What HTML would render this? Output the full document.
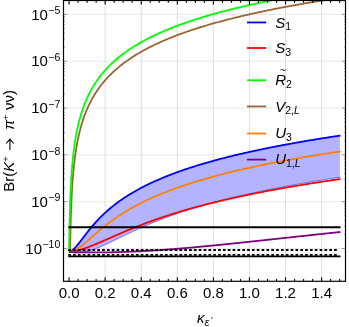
<!DOCTYPE html>
<html><head><meta charset="utf-8"><title>plot</title>
<style>html,body{margin:0;padding:0;background:#fff;}svg{display:block;}text{font-family:"Liberation Sans",sans-serif;fill:#000;}</style></head><body>
<svg width="349" height="327" viewBox="0 0 349 327" style="will-change:transform">
<rect width="349" height="327" fill="#fff"/>
<defs><clipPath id="c"><rect x="63.50" y="0.50" width="282.00" height="280.80"/></clipPath></defs>
<path d="M105.15,0.50 V281.30 M141.23,0.50 V281.30 M177.31,0.50 V281.30 M213.39,0.50 V281.30 M249.47,0.50 V281.30 M285.55,0.50 V281.30 M321.63,0.50 V281.30" stroke="#d6d6d6" stroke-width="0.8" fill="none"/>
<path d="M63.50,14.40 H345.50 M63.50,61.22 H345.50 M63.50,108.04 H345.50 M63.50,154.86 H345.50 M63.50,201.68 H345.50 M63.50,248.50 H345.50" stroke="#dedede" stroke-width="0.7" fill="none"/>
<g clip-path="url(#c)" fill="none" stroke-linejoin="round" stroke-linecap="butt">
<path d="M69.07,252.12 L69.22,252.07 L69.38,252.01 L69.53,251.96 L69.68,251.90 L69.83,251.83 L69.99,251.76 L70.14,251.69 L70.29,251.61 L70.45,251.53 L70.60,251.45 L70.75,251.36 L70.90,251.28 L71.06,251.18 L71.21,251.09 L71.36,250.99 L71.52,250.88 L71.67,250.78 L71.82,250.67 L71.97,250.56 L72.13,250.44 L72.28,250.32 L72.43,250.20 L72.59,250.08 L72.74,249.95 L72.89,249.82 L73.04,249.69 L73.20,249.56 L73.35,249.42 L73.50,249.28 L73.66,249.14 L73.81,248.99 L73.96,248.85 L74.12,248.70 L74.27,248.55 L74.42,248.39 L74.57,248.24 L74.73,248.08 L74.88,247.92 L75.03,247.76 L75.19,247.60 L75.34,247.43 L75.49,247.26 L75.64,247.10 L75.80,246.93 L75.95,246.75 L76.10,246.58 L76.26,246.41 L76.41,246.23 L76.56,246.05 L76.71,245.87 L76.87,245.69 L77.02,245.51 L77.17,245.33 L77.33,245.14 L77.48,244.96 L77.63,244.77 L77.78,244.59 L77.94,244.40 L78.09,244.21 L78.97,243.11 L79.84,241.99 L80.72,240.85 L81.59,239.71 L82.47,238.56 L83.34,237.40 L84.22,236.26 L85.09,235.11 L85.97,233.98 L86.85,232.85 L87.72,231.74 L88.60,230.64 L89.47,229.55 L90.35,228.48 L91.22,227.42 L92.10,226.38 L92.97,225.36 L93.85,224.35 L94.73,223.36 L95.60,222.38 L96.48,221.43 L97.35,220.48 L98.23,219.56 L99.10,218.64 L99.98,217.75 L100.85,216.87 L101.73,216.00 L102.61,215.15 L103.48,214.31 L104.36,213.49 L105.23,212.68 L106.11,211.88 L106.98,211.10 L107.86,210.32 L108.74,209.57 L109.61,208.82 L110.49,208.08 L111.36,207.36 L112.24,206.65 L113.11,205.95 L113.99,205.25 L114.86,204.57 L115.74,203.90 L116.62,203.24 L117.49,202.59 L118.37,201.95 L119.24,201.31 L120.12,200.69 L120.99,200.07 L121.87,199.47 L122.74,198.87 L123.62,198.28 L124.50,197.69 L125.37,197.12 L126.25,196.55 L127.12,195.99 L128.00,195.44 L128.87,194.89 L129.75,194.35 L130.62,193.82 L131.50,193.29 L132.38,192.77 L133.25,192.26 L134.13,191.75 L135.00,191.25 L135.88,190.75 L136.75,190.26 L137.63,189.77 L138.50,189.29 L139.38,188.82 L140.26,188.35 L141.13,187.89 L142.01,187.43 L142.88,186.97 L143.76,186.52 L144.63,186.08 L145.51,185.64 L146.38,185.20 L147.26,184.77 L148.14,184.35 L149.01,183.92 L149.89,183.51 L150.76,183.09 L151.64,182.68 L152.51,182.28 L153.39,181.87 L154.26,181.48 L155.14,181.08 L156.02,180.69 L156.89,180.30 L157.77,179.92 L158.64,179.54 L159.52,179.16 L160.39,178.79 L161.27,178.42 L162.15,178.05 L163.02,177.69 L163.90,177.33 L164.77,176.97 L165.65,176.62 L166.52,176.26 L167.40,175.92 L168.27,175.57 L169.15,175.23 L170.03,174.89 L170.90,174.55 L171.78,174.22 L172.65,173.88 L173.53,173.55 L174.40,173.23 L175.28,172.90 L176.15,172.58 L177.03,172.26 L177.91,171.95 L178.78,171.63 L179.66,171.32 L180.53,171.01 L181.41,170.70 L182.28,170.40 L183.16,170.10 L184.03,169.79 L184.91,169.50 L185.79,169.20 L186.66,168.91 L187.54,168.61 L188.41,168.32 L189.29,168.04 L190.16,167.75 L191.04,167.47 L191.91,167.18 L192.79,166.90 L193.67,166.62 L194.54,166.35 L195.42,166.07 L196.29,165.80 L197.17,165.53 L198.04,165.26 L198.92,164.99 L199.79,164.73 L200.67,164.46 L201.55,164.20 L202.42,163.94 L203.30,163.68 L204.17,163.42 L205.05,163.17 L205.92,162.91 L206.80,162.66 L207.67,162.41 L208.55,162.16 L209.43,161.91 L210.30,161.66 L211.18,161.42 L212.05,161.18 L212.93,160.93 L213.80,160.69 L214.68,160.45 L215.56,160.21 L216.43,159.98 L217.31,159.74 L218.18,159.51 L219.06,159.28 L219.93,159.04 L220.81,158.81 L221.68,158.59 L222.56,158.36 L223.44,158.13 L224.31,157.91 L225.19,157.68 L226.06,157.46 L226.94,157.24 L227.81,157.02 L228.69,156.80 L229.56,156.58 L230.44,156.36 L231.32,156.15 L232.19,155.93 L233.07,155.72 L233.94,155.51 L234.82,155.30 L235.69,155.09 L236.57,154.88 L237.44,154.67 L238.32,154.46 L239.20,154.26 L240.07,154.05 L240.95,153.85 L241.82,153.65 L242.70,153.44 L243.57,153.24 L244.45,153.04 L245.32,152.85 L246.20,152.65 L247.08,152.45 L247.95,152.25 L248.83,152.06 L249.70,151.86 L250.58,151.67 L251.45,151.48 L252.33,151.29 L253.20,151.10 L254.08,150.91 L254.96,150.72 L255.83,150.53 L256.71,150.34 L257.58,150.16 L258.46,149.97 L259.33,149.79 L260.21,149.60 L261.08,149.42 L261.96,149.24 L262.84,149.06 L263.71,148.88 L264.59,148.70 L265.46,148.52 L266.34,148.34 L267.21,148.16 L268.09,147.99 L268.97,147.81 L269.84,147.64 L270.72,147.46 L271.59,147.29 L272.47,147.12 L273.34,146.94 L274.22,146.77 L275.09,146.60 L275.97,146.43 L276.85,146.26 L277.72,146.09 L278.60,145.93 L279.47,145.76 L280.35,145.59 L281.22,145.43 L282.10,145.26 L282.97,145.10 L283.85,144.93 L284.73,144.77 L285.60,144.61 L286.48,144.44 L287.35,144.28 L288.23,144.12 L289.10,143.96 L289.98,143.80 L290.85,143.64 L291.73,143.49 L292.61,143.33 L293.48,143.17 L294.36,143.02 L295.23,142.86 L296.11,142.70 L296.98,142.55 L297.86,142.40 L298.73,142.24 L299.61,142.09 L300.49,141.94 L301.36,141.79 L302.24,141.63 L303.11,141.48 L303.99,141.33 L304.86,141.18 L305.74,141.04 L306.61,140.89 L307.49,140.74 L308.37,140.59 L309.24,140.45 L310.12,140.30 L310.99,140.15 L311.87,140.01 L312.74,139.86 L313.62,139.72 L314.49,139.58 L315.37,139.43 L316.25,139.29 L317.12,139.15 L318.00,139.01 L318.87,138.87 L319.75,138.72 L320.62,138.58 L321.50,138.44 L322.38,138.31 L323.25,138.17 L324.13,138.03 L325.00,137.89 L325.88,137.75 L326.75,137.62 L327.63,137.48 L328.50,137.34 L329.38,137.21 L330.26,137.07 L331.13,136.94 L332.01,136.80 L332.88,136.67 L333.76,136.54 L334.63,136.40 L335.51,136.27 L336.38,136.14 L337.26,136.01 L338.14,135.88 L339.01,135.75 L339.89,135.62 L339.89,177.29 L339.01,177.42 L338.14,177.55 L337.26,177.69 L336.38,177.82 L335.51,177.95 L334.63,178.09 L333.76,178.22 L332.88,178.36 L332.01,178.49 L331.13,178.63 L330.26,178.76 L329.38,178.90 L328.50,179.04 L327.63,179.17 L326.75,179.31 L325.88,179.45 L325.00,179.59 L324.13,179.73 L323.25,179.87 L322.38,180.01 L321.50,180.15 L320.62,180.29 L319.75,180.43 L318.87,180.58 L318.00,180.72 L317.12,180.86 L316.25,181.01 L315.37,181.15 L314.49,181.29 L313.62,181.44 L312.74,181.58 L311.87,181.73 L310.99,181.88 L310.12,182.02 L309.24,182.17 L308.37,182.32 L307.49,182.47 L306.61,182.62 L305.74,182.77 L304.86,182.92 L303.99,183.07 L303.11,183.22 L302.24,183.37 L301.36,183.53 L300.49,183.68 L299.61,183.83 L298.73,183.99 L297.86,184.14 L296.98,184.30 L296.11,184.45 L295.23,184.61 L294.36,184.77 L293.48,184.92 L292.61,185.08 L291.73,185.24 L290.85,185.40 L289.98,185.56 L289.10,185.72 L288.23,185.88 L287.35,186.04 L286.48,186.21 L285.60,186.37 L284.73,186.53 L283.85,186.70 L282.97,186.86 L282.10,187.03 L281.22,187.19 L280.35,187.36 L279.47,187.53 L278.60,187.70 L277.72,187.87 L276.85,188.04 L275.97,188.21 L275.09,188.38 L274.22,188.55 L273.34,188.72 L272.47,188.90 L271.59,189.07 L270.72,189.24 L269.84,189.42 L268.97,189.59 L268.09,189.77 L267.21,189.95 L266.34,190.13 L265.46,190.31 L264.59,190.49 L263.71,190.67 L262.84,190.85 L261.96,191.03 L261.08,191.21 L260.21,191.40 L259.33,191.58 L258.46,191.76 L257.58,191.95 L256.71,192.14 L255.83,192.32 L254.96,192.51 L254.08,192.70 L253.20,192.89 L252.33,193.08 L251.45,193.28 L250.58,193.47 L249.70,193.66 L248.83,193.86 L247.95,194.05 L247.08,194.25 L246.20,194.44 L245.32,194.64 L244.45,194.84 L243.57,195.04 L242.70,195.24 L241.82,195.44 L240.95,195.64 L240.07,195.85 L239.20,196.05 L238.32,196.26 L237.44,196.46 L236.57,196.67 L235.69,196.88 L234.82,197.09 L233.94,197.30 L233.07,197.51 L232.19,197.72 L231.32,197.94 L230.44,198.15 L229.56,198.37 L228.69,198.58 L227.81,198.80 L226.94,199.02 L226.06,199.24 L225.19,199.46 L224.31,199.68 L223.44,199.90 L222.56,200.13 L221.68,200.35 L220.81,200.58 L219.93,200.81 L219.06,201.04 L218.18,201.27 L217.31,201.50 L216.43,201.73 L215.56,201.96 L214.68,202.20 L213.80,202.43 L212.93,202.67 L212.05,202.91 L211.18,203.15 L210.30,203.39 L209.43,203.63 L208.55,203.88 L207.67,204.12 L206.80,204.37 L205.92,204.62 L205.05,204.87 L204.17,205.12 L203.30,205.37 L202.42,205.62 L201.55,205.88 L200.67,206.13 L199.79,206.39 L198.92,206.65 L198.04,206.91 L197.17,207.17 L196.29,207.44 L195.42,207.70 L194.54,207.97 L193.67,208.24 L192.79,208.51 L191.91,208.78 L191.04,209.05 L190.16,209.32 L189.29,209.60 L188.41,209.88 L187.54,210.16 L186.66,210.44 L185.79,210.72 L184.91,211.00 L184.03,211.29 L183.16,211.58 L182.28,211.87 L181.41,212.16 L180.53,212.45 L179.66,212.75 L178.78,213.04 L177.91,213.34 L177.03,213.64 L176.15,213.94 L175.28,214.25 L174.40,214.55 L173.53,214.86 L172.65,215.17 L171.78,215.48 L170.90,215.79 L170.03,216.11 L169.15,216.43 L168.27,216.75 L167.40,217.07 L166.52,217.39 L165.65,217.72 L164.77,218.04 L163.90,218.37 L163.02,218.71 L162.15,219.04 L161.27,219.37 L160.39,219.71 L159.52,220.05 L158.64,220.39 L157.77,220.74 L156.89,221.09 L156.02,221.43 L155.14,221.79 L154.26,222.14 L153.39,222.49 L152.51,222.85 L151.64,223.21 L150.76,223.57 L149.89,223.94 L149.01,224.30 L148.14,224.67 L147.26,225.04 L146.38,225.42 L145.51,225.79 L144.63,226.17 L143.76,226.55 L142.88,226.93 L142.01,227.31 L141.13,227.70 L140.26,228.09 L139.38,228.48 L138.50,228.87 L137.63,229.27 L136.75,229.66 L135.88,230.06 L135.00,230.46 L134.13,230.87 L133.25,231.27 L132.38,231.68 L131.50,232.08 L130.62,232.50 L129.75,232.91 L128.87,233.32 L128.00,233.74 L127.12,234.15 L126.25,234.57 L125.37,234.99 L124.50,235.41 L123.62,235.83 L122.74,236.25 L121.87,236.68 L120.99,237.10 L120.12,237.53 L119.24,237.95 L118.37,238.38 L117.49,238.80 L116.62,239.23 L115.74,239.65 L114.86,240.08 L113.99,240.50 L113.11,240.93 L112.24,241.35 L111.36,241.77 L110.49,242.19 L109.61,242.60 L108.74,243.02 L107.86,243.43 L106.98,243.84 L106.11,244.24 L105.23,244.64 L104.36,245.04 L103.48,245.43 L102.61,245.82 L101.73,246.20 L100.85,246.58 L99.98,246.95 L99.10,247.31 L98.23,247.67 L97.35,248.02 L96.48,248.35 L95.60,248.69 L94.73,249.01 L93.85,249.32 L92.97,249.62 L92.10,249.91 L91.22,250.19 L90.35,250.45 L89.47,250.71 L88.60,250.95 L87.72,251.17 L86.85,251.38 L85.97,251.58 L85.09,251.77 L84.22,251.93 L83.34,252.08 L82.47,252.22 L81.59,252.34 L80.72,252.44 L79.84,252.52 L78.97,252.59 L78.09,252.64 L77.94,252.65 L77.78,252.65 L77.63,252.66 L77.48,252.66 L77.33,252.67 L77.17,252.67 L77.02,252.67 L76.87,252.68 L76.71,252.68 L76.56,252.68 L76.41,252.68 L76.26,252.68 L76.10,252.68 L75.95,252.68 L75.80,252.68 L75.64,252.68 L75.49,252.68 L75.34,252.68 L75.19,252.67 L75.03,252.67 L74.88,252.67 L74.73,252.66 L74.57,252.66 L74.42,252.65 L74.27,252.65 L74.12,252.64 L73.96,252.63 L73.81,252.62 L73.66,252.62 L73.50,252.61 L73.35,252.60 L73.20,252.59 L73.04,252.58 L72.89,252.57 L72.74,252.55 L72.59,252.54 L72.43,252.53 L72.28,252.52 L72.13,252.50 L71.97,252.49 L71.82,252.47 L71.67,252.46 L71.52,252.44 L71.36,252.43 L71.21,252.41 L71.06,252.39 L70.90,252.37 L70.75,252.35 L70.60,252.34 L70.45,252.32 L70.29,252.30 L70.14,252.28 L69.99,252.25 L69.83,252.23 L69.68,252.21 L69.53,252.19 L69.38,252.17 L69.22,252.14 L69.07,252.12 Z" fill="#b3b3ff" stroke="none"/>
<path d="M69.07,252.12 L69.22,252.14 L69.38,252.17 L69.53,252.19 L69.68,252.21 L69.83,252.23 L69.99,252.25 L70.14,252.28 L70.29,252.30 L70.45,252.32 L70.60,252.34 L70.75,252.35 L70.90,252.37 L71.06,252.39 L71.21,252.41 L71.36,252.43 L71.52,252.44 L71.67,252.46 L71.82,252.47 L71.97,252.49 L72.13,252.50 L72.28,252.52 L72.43,252.53 L72.59,252.54 L72.74,252.55 L72.89,252.57 L73.04,252.58 L73.20,252.59 L73.35,252.60 L73.50,252.61 L73.66,252.62 L73.81,252.62 L73.96,252.63 L74.12,252.64 L74.27,252.65 L74.42,252.65 L74.57,252.66 L74.73,252.66 L74.88,252.67 L75.03,252.67 L75.19,252.67 L75.34,252.68 L75.49,252.68 L75.64,252.68 L75.80,252.68 L75.95,252.68 L76.10,252.68 L76.26,252.68 L76.41,252.68 L76.56,252.68 L76.71,252.68 L76.87,252.68 L77.02,252.67 L77.17,252.67 L77.33,252.67 L77.48,252.66 L77.63,252.66 L77.78,252.65 L77.94,252.65 L78.09,252.64 L78.97,252.59 L79.85,252.52 L80.72,252.44 L81.60,252.34 L82.48,252.22 L83.36,252.08 L84.23,251.93 L85.11,251.76 L85.99,251.58 L86.87,251.38 L87.74,251.17 L88.62,250.94 L89.50,250.70 L90.38,250.44 L91.25,250.18 L92.13,249.90 L93.01,249.61 L93.89,249.31 L94.76,248.99 L95.64,248.67 L96.52,248.34 L97.40,248.00 L98.27,247.65 L99.15,247.29 L100.03,246.93 L100.91,246.56 L101.78,246.18 L102.66,245.80 L103.54,245.41 L104.42,245.01 L105.29,244.62 L106.17,244.21 L107.05,243.81 L107.93,243.40 L108.80,242.98 L109.68,242.57 L110.56,242.15 L111.44,241.73 L112.32,241.31 L113.19,240.89 L114.07,240.46 L114.95,240.04 L115.83,239.61 L116.70,239.19 L117.58,238.76 L118.46,238.33 L119.34,237.91 L120.21,237.48 L121.09,237.06 L121.97,236.63 L122.85,236.21 L123.72,235.78 L124.60,235.36 L125.48,234.94 L126.36,234.52 L127.23,234.10 L128.11,233.68 L128.99,233.27 L129.87,232.85 L130.74,232.44 L131.62,232.03 L132.50,231.62 L133.38,231.21 L134.25,230.81 L135.13,230.40 L136.01,230.00 L136.89,229.60 L137.76,229.20 L138.64,228.81 L139.52,228.42 L140.40,228.02 L141.27,227.64 L142.15,227.25 L143.03,226.86 L143.91,226.48 L144.78,226.10 L145.66,225.72 L146.54,225.35 L147.42,224.98 L148.30,224.60 L149.17,224.24 L150.05,223.87 L150.93,223.50 L151.81,223.14 L152.68,222.78 L153.56,222.42 L154.44,222.07 L155.32,221.71 L156.19,221.36 L157.07,221.01 L157.95,220.67 L158.83,220.32 L159.70,219.98 L160.58,219.64 L161.46,219.30 L162.34,218.97 L163.21,218.63 L164.09,218.30 L164.97,217.97 L165.85,217.64 L166.72,217.32 L167.60,216.99 L168.48,216.67 L169.36,216.35 L170.23,216.03 L171.11,215.72 L171.99,215.41 L172.87,215.09 L173.74,214.78 L174.62,214.48 L175.50,214.17 L176.38,213.87 L177.25,213.56 L178.13,213.26 L179.01,212.96 L179.89,212.67 L180.77,212.37 L181.64,212.08 L182.52,211.79 L183.40,211.50 L184.28,211.21 L185.15,210.93 L186.03,210.64 L186.91,210.36 L187.79,210.08 L188.66,209.80 L189.54,209.52 L190.42,209.24 L191.30,208.97 L192.17,208.70 L193.05,208.42 L193.93,208.16 L194.81,207.89 L195.68,207.62 L196.56,207.36 L197.44,207.09 L198.32,206.83 L199.19,206.57 L200.07,206.31 L200.95,206.05 L201.83,205.80 L202.70,205.54 L203.58,205.29 L204.46,205.04 L205.34,204.78 L206.21,204.54 L207.09,204.29 L207.97,204.04 L208.85,203.80 L209.72,203.55 L210.60,203.31 L211.48,203.07 L212.36,202.83 L213.23,202.59 L214.11,202.35 L214.99,202.12 L215.87,201.88 L216.75,201.65 L217.62,201.41 L218.50,201.18 L219.38,200.95 L220.26,200.72 L221.13,200.50 L222.01,200.27 L222.89,200.04 L223.77,199.82 L224.64,199.60 L225.52,199.37 L226.40,199.15 L227.28,198.93 L228.15,198.71 L229.03,198.50 L229.91,198.28 L230.79,198.07 L231.66,197.85 L232.54,197.64 L233.42,197.42 L234.30,197.21 L235.17,197.00 L236.05,196.79 L236.93,196.59 L237.81,196.38 L238.68,196.17 L239.56,195.97 L240.44,195.76 L241.32,195.56 L242.19,195.36 L243.07,195.15 L243.95,194.95 L244.83,194.75 L245.70,194.56 L246.58,194.36 L247.46,194.16 L248.34,193.96 L249.22,193.77 L250.09,193.57 L250.97,193.38 L251.85,193.19 L252.73,193.00 L253.60,192.81 L254.48,192.62 L255.36,192.43 L256.24,192.24 L257.11,192.05 L257.99,191.86 L258.87,191.68 L259.75,191.49 L260.62,191.31 L261.50,191.12 L262.38,190.94 L263.26,190.76 L264.13,190.58 L265.01,190.40 L265.89,190.22 L266.77,190.04 L267.64,189.86 L268.52,189.68 L269.40,189.51 L270.28,189.33 L271.15,189.16 L272.03,188.98 L272.91,188.81 L273.79,188.63 L274.66,188.46 L275.54,188.29 L276.42,188.12 L277.30,187.95 L278.17,187.78 L279.05,187.61 L279.93,187.44 L280.81,187.27 L281.68,187.11 L282.56,186.94 L283.44,186.78 L284.32,186.61 L285.20,186.45 L286.07,186.28 L286.95,186.12 L287.83,185.96 L288.71,185.79 L289.58,185.63 L290.46,185.47 L291.34,185.31 L292.22,185.15 L293.09,184.99 L293.97,184.84 L294.85,184.68 L295.73,184.52 L296.60,184.36 L297.48,184.21 L298.36,184.05 L299.24,183.90 L300.11,183.74 L300.99,183.59 L301.87,183.44 L302.75,183.28 L303.62,183.13 L304.50,182.98 L305.38,182.83 L306.26,182.68 L307.13,182.53 L308.01,182.38 L308.89,182.23 L309.77,182.08 L310.64,181.94 L311.52,181.79 L312.40,181.64 L313.28,181.50 L314.15,181.35 L315.03,181.20 L315.91,181.06 L316.79,180.92 L317.67,180.77 L318.54,180.63 L319.42,180.49 L320.30,180.34 L321.18,180.20 L322.05,180.06 L322.93,179.92 L323.81,179.78 L324.69,179.64 L325.56,179.50 L326.44,179.36 L327.32,179.22 L328.20,179.09 L329.07,178.95 L329.95,178.81 L330.83,178.67 L331.71,178.54 L332.58,178.40 L333.46,178.27 L334.34,178.13 L335.22,178.00 L336.09,177.86 L336.97,177.73 L337.85,177.60 L338.73,177.46 L339.60,177.33 L340.48,177.20" stroke="#0000ff" stroke-width="0.5"/>
<path d="M69.07,252.12 L69.22,252.07 L69.38,252.01 L69.53,251.96 L69.68,251.90 L69.83,251.83 L69.99,251.76 L70.14,251.69 L70.29,251.61 L70.45,251.53 L70.60,251.45 L70.75,251.36 L70.90,251.28 L71.06,251.18 L71.21,251.09 L71.36,250.99 L71.52,250.88 L71.67,250.78 L71.82,250.67 L71.97,250.56 L72.13,250.44 L72.28,250.32 L72.43,250.20 L72.59,250.08 L72.74,249.95 L72.89,249.82 L73.04,249.69 L73.20,249.56 L73.35,249.42 L73.50,249.28 L73.66,249.14 L73.81,248.99 L73.96,248.85 L74.12,248.70 L74.27,248.55 L74.42,248.39 L74.57,248.24 L74.73,248.08 L74.88,247.92 L75.03,247.76 L75.19,247.60 L75.34,247.43 L75.49,247.26 L75.64,247.10 L75.80,246.93 L75.95,246.75 L76.10,246.58 L76.26,246.41 L76.41,246.23 L76.56,246.05 L76.71,245.87 L76.87,245.69 L77.02,245.51 L77.17,245.33 L77.33,245.14 L77.48,244.96 L77.63,244.77 L77.78,244.59 L77.94,244.40 L78.09,244.21 L78.97,243.11 L79.85,241.98 L80.72,240.85 L81.60,239.70 L82.48,238.54 L83.36,237.39 L84.23,236.24 L85.11,235.09 L85.99,233.95 L86.87,232.83 L87.74,231.71 L88.62,230.61 L89.50,229.52 L90.38,228.45 L91.25,227.39 L92.13,226.35 L93.01,225.32 L93.89,224.31 L94.76,223.32 L95.64,222.34 L96.52,221.38 L97.40,220.44 L98.27,219.51 L99.15,218.59 L100.03,217.70 L100.91,216.81 L101.78,215.95 L102.66,215.09 L103.54,214.26 L104.42,213.43 L105.29,212.62 L106.17,211.82 L107.05,211.04 L107.93,210.27 L108.80,209.51 L109.68,208.76 L110.56,208.02 L111.44,207.30 L112.32,206.58 L113.19,205.88 L114.07,205.19 L114.95,204.51 L115.83,203.84 L116.70,203.18 L117.58,202.52 L118.46,201.88 L119.34,201.25 L120.21,200.62 L121.09,200.01 L121.97,199.40 L122.85,198.80 L123.72,198.21 L124.60,197.62 L125.48,197.05 L126.36,196.48 L127.23,195.92 L128.11,195.36 L128.99,194.82 L129.87,194.28 L130.74,193.74 L131.62,193.22 L132.50,192.70 L133.38,192.18 L134.25,191.67 L135.13,191.17 L136.01,190.67 L136.89,190.18 L137.76,189.70 L138.64,189.22 L139.52,188.74 L140.40,188.28 L141.27,187.81 L142.15,187.35 L143.03,186.90 L143.91,186.45 L144.78,186.00 L145.66,185.56 L146.54,185.13 L147.42,184.70 L148.30,184.27 L149.17,183.85 L150.05,183.43 L150.93,183.01 L151.81,182.60 L152.68,182.20 L153.56,181.80 L154.44,181.40 L155.32,181.00 L156.19,180.61 L157.07,180.22 L157.95,179.84 L158.83,179.46 L159.70,179.08 L160.58,178.71 L161.46,178.34 L162.34,177.97 L163.21,177.61 L164.09,177.25 L164.97,176.89 L165.85,176.54 L166.72,176.18 L167.60,175.83 L168.48,175.49 L169.36,175.15 L170.23,174.81 L171.11,174.47 L171.99,174.13 L172.87,173.80 L173.74,173.47 L174.62,173.15 L175.50,172.82 L176.38,172.50 L177.25,172.18 L178.13,171.86 L179.01,171.55 L179.89,171.24 L180.77,170.93 L181.64,170.62 L182.52,170.32 L183.40,170.01 L184.28,169.71 L185.15,169.41 L186.03,169.12 L186.91,168.82 L187.79,168.53 L188.66,168.24 L189.54,167.95 L190.42,167.67 L191.30,167.38 L192.17,167.10 L193.05,166.82 L193.93,166.54 L194.81,166.26 L195.68,165.99 L196.56,165.72 L197.44,165.45 L198.32,165.18 L199.19,164.91 L200.07,164.64 L200.95,164.38 L201.83,164.12 L202.70,163.86 L203.58,163.60 L204.46,163.34 L205.34,163.08 L206.21,162.83 L207.09,162.58 L207.97,162.32 L208.85,162.08 L209.72,161.83 L210.60,161.58 L211.48,161.33 L212.36,161.09 L213.23,160.85 L214.11,160.61 L214.99,160.37 L215.87,160.13 L216.75,159.89 L217.62,159.66 L218.50,159.42 L219.38,159.19 L220.26,158.96 L221.13,158.73 L222.01,158.50 L222.89,158.27 L223.77,158.05 L224.64,157.82 L225.52,157.60 L226.40,157.37 L227.28,157.15 L228.15,156.93 L229.03,156.71 L229.91,156.50 L230.79,156.28 L231.66,156.06 L232.54,155.85 L233.42,155.64 L234.30,155.42 L235.17,155.21 L236.05,155.00 L236.93,154.79 L237.81,154.58 L238.68,154.38 L239.56,154.17 L240.44,153.97 L241.32,153.76 L242.19,153.56 L243.07,153.36 L243.95,153.16 L244.83,152.96 L245.70,152.76 L246.58,152.56 L247.46,152.36 L248.34,152.17 L249.22,151.97 L250.09,151.78 L250.97,151.59 L251.85,151.39 L252.73,151.20 L253.60,151.01 L254.48,150.82 L255.36,150.63 L256.24,150.44 L257.11,150.26 L257.99,150.07 L258.87,149.89 L259.75,149.70 L260.62,149.52 L261.50,149.33 L262.38,149.15 L263.26,148.97 L264.13,148.79 L265.01,148.61 L265.89,148.43 L266.77,148.25 L267.64,148.08 L268.52,147.90 L269.40,147.72 L270.28,147.55 L271.15,147.37 L272.03,147.20 L272.91,147.03 L273.79,146.86 L274.66,146.68 L275.54,146.51 L276.42,146.34 L277.30,146.17 L278.17,146.01 L279.05,145.84 L279.93,145.67 L280.81,145.50 L281.68,145.34 L282.56,145.17 L283.44,145.01 L284.32,144.84 L285.20,144.68 L286.07,144.52 L286.95,144.36 L287.83,144.20 L288.71,144.04 L289.58,143.88 L290.46,143.72 L291.34,143.56 L292.22,143.40 L293.09,143.24 L293.97,143.08 L294.85,142.93 L295.73,142.77 L296.60,142.62 L297.48,142.46 L298.36,142.31 L299.24,142.16 L300.11,142.00 L300.99,141.85 L301.87,141.70 L302.75,141.55 L303.62,141.40 L304.50,141.25 L305.38,141.10 L306.26,140.95 L307.13,140.80 L308.01,140.65 L308.89,140.50 L309.77,140.36 L310.64,140.21 L311.52,140.07 L312.40,139.92 L313.28,139.78 L314.15,139.63 L315.03,139.49 L315.91,139.34 L316.79,139.20 L317.67,139.06 L318.54,138.92 L319.42,138.78 L320.30,138.64 L321.18,138.50 L322.05,138.36 L322.93,138.22 L323.81,138.08 L324.69,137.94 L325.56,137.80 L326.44,137.66 L327.32,137.53 L328.20,137.39 L329.07,137.26 L329.95,137.12 L330.83,136.98 L331.71,136.85 L332.58,136.72 L333.46,136.58 L334.34,136.45 L335.22,136.32 L336.09,136.18 L336.97,136.05 L337.85,135.92 L338.73,135.79 L339.60,135.66 L340.48,135.53" stroke="#0000ff" stroke-width="1.80"/>
<path d="M69.07,252.12 L69.22,252.10 L69.38,252.08 L69.53,252.06 L69.68,252.04 L69.83,252.02 L69.99,252.00 L70.14,251.98 L70.29,251.96 L70.45,251.94 L70.60,251.92 L70.75,251.90 L70.90,251.87 L71.06,251.85 L71.21,251.83 L71.36,251.80 L71.52,251.78 L71.67,251.75 L71.82,251.73 L71.97,251.70 L72.13,251.68 L72.28,251.65 L72.43,251.63 L72.59,251.60 L72.74,251.57 L72.89,251.54 L73.04,251.52 L73.20,251.49 L73.35,251.46 L73.50,251.43 L73.66,251.40 L73.81,251.37 L73.96,251.34 L74.12,251.31 L74.27,251.28 L74.42,251.24 L74.57,251.21 L74.73,251.18 L74.88,251.15 L75.03,251.12 L75.19,251.08 L75.34,251.05 L75.49,251.01 L75.64,250.98 L75.80,250.94 L75.95,250.91 L76.10,250.87 L76.26,250.84 L76.41,250.80 L76.56,250.77 L76.71,250.73 L76.87,250.69 L77.02,250.65 L77.17,250.62 L77.33,250.58 L77.48,250.54 L77.63,250.50 L77.78,250.46 L77.94,250.42 L78.09,250.38 L78.97,250.15 L79.85,249.90 L80.72,249.64 L81.60,249.38 L82.48,249.11 L83.36,248.82 L84.23,248.53 L85.11,248.23 L85.99,247.93 L86.87,247.62 L87.74,247.30 L88.62,246.97 L89.50,246.64 L90.38,246.30 L91.25,245.96 L92.13,245.61 L93.01,245.26 L93.89,244.90 L94.76,244.54 L95.64,244.18 L96.52,243.82 L97.40,243.45 L98.27,243.07 L99.15,242.70 L100.03,242.32 L100.91,241.95 L101.78,241.57 L102.66,241.18 L103.54,240.80 L104.42,240.42 L105.29,240.03 L106.17,239.65 L107.05,239.26 L107.93,238.88 L108.80,238.49 L109.68,238.10 L110.56,237.72 L111.44,237.33 L112.32,236.95 L113.19,236.56 L114.07,236.18 L114.95,235.79 L115.83,235.41 L116.70,235.03 L117.58,234.64 L118.46,234.26 L119.34,233.89 L120.21,233.51 L121.09,233.13 L121.97,232.75 L122.85,232.38 L123.72,232.01 L124.60,231.64 L125.48,231.27 L126.36,230.90 L127.23,230.53 L128.11,230.17 L128.99,229.80 L129.87,229.44 L130.74,229.08 L131.62,228.72 L132.50,228.37 L133.38,228.01 L134.25,227.66 L135.13,227.31 L136.01,226.96 L136.89,226.61 L137.76,226.26 L138.64,225.92 L139.52,225.58 L140.40,225.24 L141.27,224.90 L142.15,224.56 L143.03,224.22 L143.91,223.89 L144.78,223.56 L145.66,223.23 L146.54,222.90 L147.42,222.58 L148.30,222.25 L149.17,221.93 L150.05,221.61 L150.93,221.29 L151.81,220.97 L152.68,220.66 L153.56,220.35 L154.44,220.03 L155.32,219.72 L156.19,219.42 L157.07,219.11 L157.95,218.81 L158.83,218.50 L159.70,218.20 L160.58,217.90 L161.46,217.60 L162.34,217.31 L163.21,217.01 L164.09,216.72 L164.97,216.43 L165.85,216.14 L166.72,215.85 L167.60,215.57 L168.48,215.28 L169.36,215.00 L170.23,214.72 L171.11,214.44 L171.99,214.16 L172.87,213.89 L173.74,213.61 L174.62,213.34 L175.50,213.07 L176.38,212.79 L177.25,212.53 L178.13,212.26 L179.01,211.99 L179.89,211.73 L180.77,211.46 L181.64,211.20 L182.52,210.94 L183.40,210.68 L184.28,210.43 L185.15,210.17 L186.03,209.92 L186.91,209.66 L187.79,209.41 L188.66,209.16 L189.54,208.91 L190.42,208.66 L191.30,208.42 L192.17,208.17 L193.05,207.93 L193.93,207.68 L194.81,207.44 L195.68,207.20 L196.56,206.96 L197.44,206.72 L198.32,206.49 L199.19,206.25 L200.07,206.02 L200.95,205.79 L201.83,205.55 L202.70,205.32 L203.58,205.09 L204.46,204.87 L205.34,204.64 L206.21,204.41 L207.09,204.19 L207.97,203.96 L208.85,203.74 L209.72,203.52 L210.60,203.30 L211.48,203.08 L212.36,202.86 L213.23,202.64 L214.11,202.43 L214.99,202.21 L215.87,202.00 L216.75,201.78 L217.62,201.57 L218.50,201.36 L219.38,201.15 L220.26,200.94 L221.13,200.73 L222.01,200.53 L222.89,200.32 L223.77,200.11 L224.64,199.91 L225.52,199.71 L226.40,199.50 L227.28,199.30 L228.15,199.10 L229.03,198.90 L229.91,198.70 L230.79,198.50 L231.66,198.31 L232.54,198.11 L233.42,197.92 L234.30,197.72 L235.17,197.53 L236.05,197.33 L236.93,197.14 L237.81,196.95 L238.68,196.76 L239.56,196.57 L240.44,196.38 L241.32,196.20 L242.19,196.01 L243.07,195.82 L243.95,195.64 L244.83,195.45 L245.70,195.27 L246.58,195.09 L247.46,194.90 L248.34,194.72 L249.22,194.54 L250.09,194.36 L250.97,194.18 L251.85,194.00 L252.73,193.83 L253.60,193.65 L254.48,193.47 L255.36,193.30 L256.24,193.12 L257.11,192.95 L257.99,192.77 L258.87,192.60 L259.75,192.43 L260.62,192.26 L261.50,192.09 L262.38,191.92 L263.26,191.75 L264.13,191.58 L265.01,191.41 L265.89,191.24 L266.77,191.08 L267.64,190.91 L268.52,190.74 L269.40,190.58 L270.28,190.41 L271.15,190.25 L272.03,190.09 L272.91,189.93 L273.79,189.76 L274.66,189.60 L275.54,189.44 L276.42,189.28 L277.30,189.12 L278.17,188.96 L279.05,188.81 L279.93,188.65 L280.81,188.49 L281.68,188.34 L282.56,188.18 L283.44,188.02 L284.32,187.87 L285.20,187.72 L286.07,187.56 L286.95,187.41 L287.83,187.26 L288.71,187.10 L289.58,186.95 L290.46,186.80 L291.34,186.65 L292.22,186.50 L293.09,186.35 L293.97,186.20 L294.85,186.06 L295.73,185.91 L296.60,185.76 L297.48,185.61 L298.36,185.47 L299.24,185.32 L300.11,185.18 L300.99,185.03 L301.87,184.89 L302.75,184.74 L303.62,184.60 L304.50,184.46 L305.38,184.32 L306.26,184.17 L307.13,184.03 L308.01,183.89 L308.89,183.75 L309.77,183.61 L310.64,183.47 L311.52,183.33 L312.40,183.20 L313.28,183.06 L314.15,182.92 L315.03,182.78 L315.91,182.65 L316.79,182.51 L317.67,182.37 L318.54,182.24 L319.42,182.10 L320.30,181.97 L321.18,181.84 L322.05,181.70 L322.93,181.57 L323.81,181.44 L324.69,181.30 L325.56,181.17 L326.44,181.04 L327.32,180.91 L328.20,180.78 L329.07,180.65 L329.95,180.52 L330.83,180.39 L331.71,180.26 L332.58,180.13 L333.46,180.00 L334.34,179.87 L335.22,179.75 L336.09,179.62 L336.97,179.49 L337.85,179.37 L338.73,179.24 L339.60,179.11 L340.48,178.99" stroke="#ff0000" stroke-width="1.80"/>
<path d="M69.07,252.12 L69.22,252.12 L69.38,252.12 L69.53,252.12 L69.68,252.12 L69.83,252.12 L69.99,252.12 L70.14,252.12 L70.29,241.49 L70.45,233.07 L70.60,226.12 L70.75,220.21 L70.90,215.05 L71.06,210.48 L71.21,206.38 L71.36,202.66 L71.52,199.25 L71.67,196.10 L71.82,193.18 L71.97,190.46 L72.13,187.91 L72.28,185.51 L72.43,183.25 L72.59,181.10 L72.74,179.06 L72.89,177.12 L73.04,175.27 L73.20,173.50 L73.35,171.80 L73.50,170.17 L73.66,168.61 L73.81,167.10 L73.96,165.64 L74.12,164.24 L74.27,162.88 L74.42,161.57 L74.57,160.30 L74.73,159.06 L74.88,157.87 L75.03,156.70 L75.19,155.57 L75.34,154.47 L75.49,153.40 L75.64,152.36 L75.80,151.34 L75.95,150.35 L76.10,149.38 L76.26,148.43 L76.41,147.51 L76.56,146.60 L76.71,145.72 L76.87,144.85 L77.02,144.01 L77.17,143.18 L77.33,142.36 L77.48,141.56 L77.63,140.78 L77.78,140.01 L77.94,139.26 L78.09,138.52 L78.97,134.52 L79.85,130.87 L80.72,127.53 L81.60,124.44 L82.48,121.57 L83.36,118.88 L84.23,116.37 L85.11,114.00 L85.99,111.76 L86.87,109.64 L87.74,107.62 L88.62,105.70 L89.50,103.86 L90.38,102.11 L91.25,100.42 L92.13,98.81 L93.01,97.25 L93.89,95.76 L94.76,94.31 L95.64,92.92 L96.52,91.57 L97.40,90.27 L98.27,89.00 L99.15,87.77 L100.03,86.58 L100.91,85.43 L101.78,84.30 L102.66,83.21 L103.54,82.14 L104.42,81.11 L105.29,80.09 L106.17,79.11 L107.05,78.14 L107.93,77.20 L108.80,76.28 L109.68,75.38 L110.56,74.50 L111.44,73.63 L112.32,72.79 L113.19,71.96 L114.07,71.15 L114.95,70.36 L115.83,69.58 L116.70,68.81 L117.58,68.06 L118.46,67.32 L119.34,66.60 L120.21,65.89 L121.09,65.19 L121.97,64.50 L122.85,63.83 L123.72,63.16 L124.60,62.51 L125.48,61.86 L126.36,61.23 L127.23,60.61 L128.11,59.99 L128.99,59.39 L129.87,58.79 L130.74,58.20 L131.62,57.62 L132.50,57.05 L133.38,56.49 L134.25,55.93 L135.13,55.38 L136.01,54.84 L136.89,54.31 L137.76,53.78 L138.64,53.26 L139.52,52.75 L140.40,52.24 L141.27,51.74 L142.15,51.24 L143.03,50.75 L143.91,50.27 L144.78,49.79 L145.66,49.32 L146.54,48.86 L147.42,48.39 L148.30,47.94 L149.17,47.49 L150.05,47.04 L150.93,46.60 L151.81,46.16 L152.68,45.73 L153.56,45.30 L154.44,44.88 L155.32,44.46 L156.19,44.05 L157.07,43.64 L157.95,43.23 L158.83,42.83 L159.70,42.43 L160.58,42.04 L161.46,41.65 L162.34,41.26 L163.21,40.88 L164.09,40.50 L164.97,40.12 L165.85,39.75 L166.72,39.38 L167.60,39.02 L168.48,38.65 L169.36,38.29 L170.23,37.94 L171.11,37.58 L171.99,37.23 L172.87,36.89 L173.74,36.54 L174.62,36.20 L175.50,35.86 L176.38,35.53 L177.25,35.19 L178.13,34.86 L179.01,34.54 L179.89,34.21 L180.77,33.89 L181.64,33.57 L182.52,33.25 L183.40,32.94 L184.28,32.62 L185.15,32.31 L186.03,32.01 L186.91,31.70 L187.79,31.40 L188.66,31.10 L189.54,30.80 L190.42,30.50 L191.30,30.21 L192.17,29.92 L193.05,29.63 L193.93,29.34 L194.81,29.05 L195.68,28.77 L196.56,28.49 L197.44,28.21 L198.32,27.93 L199.19,27.65 L200.07,27.38 L200.95,27.10 L201.83,26.83 L202.70,26.56 L203.58,26.30 L204.46,26.03 L205.34,25.77 L206.21,25.51 L207.09,25.25 L207.97,24.99 L208.85,24.73 L209.72,24.47 L210.60,24.22 L211.48,23.97 L212.36,23.72 L213.23,23.47 L214.11,23.22 L214.99,22.97 L215.87,22.73 L216.75,22.49 L217.62,22.24 L218.50,22.00 L219.38,21.76 L220.26,21.53 L221.13,21.29 L222.01,21.06 L222.89,20.82 L223.77,20.59 L224.64,20.36 L225.52,20.13 L226.40,19.90 L227.28,19.67 L228.15,19.45 L229.03,19.22 L229.91,19.00 L230.79,18.78 L231.66,18.56 L232.54,18.34 L233.42,18.12 L234.30,17.90 L235.17,17.69 L236.05,17.47 L236.93,17.26 L237.81,17.05 L238.68,16.83 L239.56,16.62 L240.44,16.41 L241.32,16.21 L242.19,16.00 L243.07,15.79 L243.95,15.59 L244.83,15.38 L245.70,15.18 L246.58,14.98 L247.46,14.78 L248.34,14.58 L249.22,14.38 L250.09,14.18 L250.97,13.98 L251.85,13.78 L252.73,13.59 L253.60,13.39 L254.48,13.20 L255.36,13.01 L256.24,12.82 L257.11,12.63 L257.99,12.44 L258.87,12.25 L259.75,12.06 L260.62,11.87 L261.50,11.69 L262.38,11.50 L263.26,11.32 L264.13,11.13 L265.01,10.95 L265.89,10.77 L266.77,10.58 L267.64,10.40 L268.52,10.22 L269.40,10.05 L270.28,9.87 L271.15,9.69 L272.03,9.51 L272.91,9.34 L273.79,9.16 L274.66,8.99 L275.54,8.81 L276.42,8.64 L277.30,8.47 L278.17,8.30 L279.05,8.13 L279.93,7.96 L280.81,7.79 L281.68,7.62 L282.56,7.45 L283.44,7.28 L284.32,7.12 L285.20,6.95 L286.07,6.79 L286.95,6.62 L287.83,6.46 L288.71,6.29 L289.58,6.13 L290.46,5.97 L291.34,5.81 L292.22,5.65 L293.09,5.49 L293.97,5.33 L294.85,5.17 L295.73,5.01 L296.60,4.85 L297.48,4.70 L298.36,4.54 L299.24,4.38 L300.11,4.23 L300.99,4.08 L301.87,3.92 L302.75,3.77 L303.62,3.62 L304.50,3.46 L305.38,3.31 L306.26,3.16 L307.13,3.01 L308.01,2.86 L308.89,2.71 L309.77,2.56 L310.64,2.41 L311.52,2.27 L312.40,2.12 L313.28,1.97 L314.15,1.83 L315.03,1.68 L315.91,1.53 L316.79,1.39 L317.67,1.25 L318.54,1.10 L319.42,0.96 L320.30,0.82 L321.18,0.67 L322.05,0.53 L322.93,0.39 L323.81,0.25 L324.69,0.11 L325.56,-0.03 L326.44,-0.17 L327.32,-0.31 L328.20,-0.45 L329.07,-0.58 L329.95,-0.72 L330.83,-0.86 L331.71,-0.99 L332.58,-1.13 L333.46,-1.27 L334.34,-1.40 L335.22,-1.53 L336.09,-1.67 L336.97,-1.80 L337.85,-1.94 L338.73,-2.07 L339.60,-2.20 L340.48,-2.33" stroke="#996633" stroke-width="1.80"/>
<path d="M69.07,252.12 L69.22,240.82 L69.38,231.49 L69.53,223.71 L69.68,217.09 L69.83,211.35 L69.99,206.29 L70.14,201.77 L70.29,197.69 L70.45,193.98 L70.60,190.57 L70.75,187.42 L70.90,184.50 L71.06,181.77 L71.21,179.21 L71.36,176.80 L71.52,174.52 L71.67,172.37 L71.82,170.32 L71.97,168.37 L72.13,166.51 L72.28,164.73 L72.43,163.02 L72.59,161.38 L72.74,159.81 L72.89,158.29 L73.04,156.83 L73.20,155.42 L73.35,154.06 L73.50,152.74 L73.66,151.46 L73.81,150.22 L73.96,149.01 L74.12,147.85 L74.27,146.71 L74.42,145.61 L74.57,144.53 L74.73,143.48 L74.88,142.46 L75.03,141.46 L75.19,140.49 L75.34,139.54 L75.49,138.61 L75.64,137.70 L75.80,136.81 L75.95,135.95 L76.10,135.09 L76.26,134.26 L76.41,133.44 L76.56,132.64 L76.71,131.86 L76.87,131.09 L77.02,130.33 L77.17,129.59 L77.33,128.86 L77.48,128.14 L77.63,127.44 L77.78,126.75 L77.94,126.07 L78.09,125.40 L78.97,121.76 L79.85,118.42 L80.72,115.33 L81.60,112.46 L82.48,109.78 L83.36,107.26 L84.23,104.89 L85.11,102.65 L85.99,100.53 L86.87,98.51 L87.74,96.59 L88.62,94.76 L89.50,93.00 L90.38,91.32 L91.25,89.71 L92.13,88.15 L93.01,86.65 L93.89,85.21 L94.76,83.82 L95.64,82.47 L96.52,81.16 L97.40,79.90 L98.27,78.67 L99.15,77.48 L100.03,76.33 L100.91,75.20 L101.78,74.11 L102.66,73.04 L103.54,72.00 L104.42,70.99 L105.29,70.00 L106.17,69.04 L107.05,68.10 L107.93,67.18 L108.80,66.28 L109.68,65.40 L110.56,64.53 L111.44,63.69 L112.32,62.86 L113.19,62.05 L114.07,61.26 L114.95,60.48 L115.83,59.71 L116.70,58.96 L117.58,58.22 L118.46,57.50 L119.34,56.79 L120.21,56.09 L121.09,55.40 L121.97,54.73 L122.85,54.06 L123.72,53.41 L124.60,52.76 L125.48,52.13 L126.36,51.51 L127.23,50.89 L128.11,50.29 L128.99,49.69 L129.87,49.10 L130.74,48.52 L131.62,47.95 L132.50,47.39 L133.38,46.83 L134.25,46.28 L135.13,45.74 L136.01,45.21 L136.89,44.68 L137.76,44.16 L138.64,43.65 L139.52,43.14 L140.40,42.64 L141.27,42.14 L142.15,41.66 L143.03,41.17 L143.91,40.69 L144.78,40.22 L145.66,39.76 L146.54,39.29 L147.42,38.84 L148.30,38.39 L149.17,37.94 L150.05,37.50 L150.93,37.06 L151.81,36.63 L152.68,36.20 L153.56,35.78 L154.44,35.36 L155.32,34.95 L156.19,34.54 L157.07,34.13 L157.95,33.73 L158.83,33.33 L159.70,32.94 L160.58,32.55 L161.46,32.16 L162.34,31.78 L163.21,31.40 L164.09,31.02 L164.97,30.65 L165.85,30.28 L166.72,29.92 L167.60,29.55 L168.48,29.19 L169.36,28.84 L170.23,28.48 L171.11,28.13 L171.99,27.79 L172.87,27.44 L173.74,27.10 L174.62,26.76 L175.50,26.43 L176.38,26.10 L177.25,25.76 L178.13,25.44 L179.01,25.11 L179.89,24.79 L180.77,24.47 L181.64,24.15 L182.52,23.84 L183.40,23.53 L184.28,23.22 L185.15,22.91 L186.03,22.60 L186.91,22.30 L187.79,22.00 L188.66,21.70 L189.54,21.40 L190.42,21.11 L191.30,20.82 L192.17,20.53 L193.05,20.24 L193.93,19.95 L194.81,19.67 L195.68,19.39 L196.56,19.11 L197.44,18.83 L198.32,18.55 L199.19,18.28 L200.07,18.00 L200.95,17.73 L201.83,17.47 L202.70,17.20 L203.58,16.93 L204.46,16.67 L205.34,16.41 L206.21,16.15 L207.09,15.89 L207.97,15.63 L208.85,15.37 L209.72,15.12 L210.60,14.87 L211.48,14.62 L212.36,14.37 L213.23,14.12 L214.11,13.87 L214.99,13.63 L215.87,13.39 L216.75,13.14 L217.62,12.90 L218.50,12.67 L219.38,12.43 L220.26,12.19 L221.13,11.96 L222.01,11.72 L222.89,11.49 L223.77,11.26 L224.64,11.03 L225.52,10.80 L226.40,10.58 L227.28,10.35 L228.15,10.13 L229.03,9.90 L229.91,9.68 L230.79,9.46 L231.66,9.24 L232.54,9.02 L233.42,8.80 L234.30,8.59 L235.17,8.37 L236.05,8.16 L236.93,7.95 L237.81,7.73 L238.68,7.52 L239.56,7.31 L240.44,7.11 L241.32,6.90 L242.19,6.69 L243.07,6.49 L243.95,6.28 L244.83,6.08 L245.70,5.88 L246.58,5.68 L247.46,5.48 L248.34,5.28 L249.22,5.08 L250.09,4.88 L250.97,4.69 L251.85,4.49 L252.73,4.30 L253.60,4.10 L254.48,3.91 L255.36,3.72 L256.24,3.53 L257.11,3.34 L257.99,3.15 L258.87,2.96 L259.75,2.77 L260.62,2.59 L261.50,2.40 L262.38,2.22 L263.26,2.03 L264.13,1.85 L265.01,1.67 L265.89,1.49 L266.77,1.31 L267.64,1.13 L268.52,0.95 L269.40,0.77 L270.28,0.59 L271.15,0.41 L272.03,0.24 L272.91,0.06 L273.79,-0.11 L274.66,-0.29 L275.54,-0.46 L276.42,-0.63 L277.30,-0.80 L278.17,-0.97 L279.05,-1.14 L279.93,-1.31 L280.81,-1.48 L281.68,-1.65 L282.56,-1.82 L283.44,-1.98 L284.32,-2.15 L285.20,-2.31 L286.07,-2.48 L286.95,-2.64 L287.83,-2.80 L288.71,-2.97 L289.58,-3.13 L290.46,-3.29 L291.34,-3.45 L292.22,-3.61 L293.09,-3.77 L293.97,-3.93 L294.85,-4.09 L295.73,-4.25 L296.60,-4.40 L297.48,-4.56 L298.36,-4.71 L299.24,-4.87 L300.11,-5.02 L300.99,-5.18 L301.87,-5.33 L302.75,-5.48 L303.62,-5.64 L304.50,-5.79 L305.38,-5.94 L306.26,-6.09 L307.13,-6.24 L308.01,-6.39 L308.89,-6.54 L309.77,-6.69 L310.64,-6.83 L311.52,-6.98 L312.40,-7.13 L313.28,-7.27 L314.15,-7.42 L315.03,-7.56 L315.91,-7.71 L316.79,-7.85 L317.67,-8.00 L318.54,-8.14 L319.42,-8.28 L320.30,-8.42 L321.18,-8.57 L322.05,-8.71 L322.93,-8.85 L323.81,-8.99 L324.69,-9.13 L325.56,-9.27 L326.44,-9.41 L327.32,-9.54 L328.20,-9.68 L329.07,-9.82 L329.95,-9.96 L330.83,-10.09 L331.71,-10.23 L332.58,-10.36 L333.46,-10.50 L334.34,-10.63 L335.22,-10.77 L336.09,-10.90 L336.97,-11.03 L337.85,-11.17 L338.73,-11.30 L339.60,-11.43 L340.48,-11.56" stroke="#00ff00" stroke-width="1.80"/>
<path d="M69.07,252.12 L69.22,252.10 L69.38,252.08 L69.53,252.06 L69.68,252.04 L69.83,252.01 L69.99,251.98 L70.14,251.96 L70.29,251.93 L70.45,251.89 L70.60,251.86 L70.75,251.83 L70.90,251.79 L71.06,251.75 L71.21,251.71 L71.36,251.67 L71.52,251.62 L71.67,251.58 L71.82,251.53 L71.97,251.48 L72.13,251.43 L72.28,251.38 L72.43,251.33 L72.59,251.27 L72.74,251.22 L72.89,251.16 L73.04,251.10 L73.20,251.04 L73.35,250.97 L73.50,250.91 L73.66,250.84 L73.81,250.78 L73.96,250.71 L74.12,250.64 L74.27,250.57 L74.42,250.49 L74.57,250.42 L74.73,250.34 L74.88,250.27 L75.03,250.19 L75.19,250.11 L75.34,250.03 L75.49,249.95 L75.64,249.86 L75.80,249.78 L75.95,249.69 L76.10,249.60 L76.26,249.52 L76.41,249.43 L76.56,249.34 L76.71,249.24 L76.87,249.15 L77.02,249.06 L77.17,248.96 L77.33,248.86 L77.48,248.77 L77.63,248.67 L77.78,248.57 L77.94,248.47 L78.09,248.37 L78.97,247.77 L79.85,247.13 L80.72,246.48 L81.60,245.80 L82.48,245.10 L83.36,244.38 L84.23,243.65 L85.11,242.91 L85.99,242.15 L86.87,241.39 L87.74,240.63 L88.62,239.85 L89.50,239.08 L90.38,238.30 L91.25,237.53 L92.13,236.75 L93.01,235.98 L93.89,235.20 L94.76,234.44 L95.64,233.67 L96.52,232.91 L97.40,232.16 L98.27,231.41 L99.15,230.67 L100.03,229.93 L100.91,229.20 L101.78,228.48 L102.66,227.76 L103.54,227.05 L104.42,226.35 L105.29,225.66 L106.17,224.97 L107.05,224.29 L107.93,223.62 L108.80,222.95 L109.68,222.30 L110.56,221.65 L111.44,221.00 L112.32,220.37 L113.19,219.74 L114.07,219.12 L114.95,218.50 L115.83,217.90 L116.70,217.30 L117.58,216.70 L118.46,216.12 L119.34,215.54 L120.21,214.97 L121.09,214.40 L121.97,213.84 L122.85,213.28 L123.72,212.74 L124.60,212.19 L125.48,211.66 L126.36,211.13 L127.23,210.60 L128.11,210.09 L128.99,209.57 L129.87,209.07 L130.74,208.56 L131.62,208.07 L132.50,207.57 L133.38,207.09 L134.25,206.61 L135.13,206.13 L136.01,205.66 L136.89,205.19 L137.76,204.73 L138.64,204.27 L139.52,203.82 L140.40,203.37 L141.27,202.93 L142.15,202.49 L143.03,202.05 L143.91,201.62 L144.78,201.20 L145.66,200.77 L146.54,200.35 L147.42,199.94 L148.30,199.53 L149.17,199.12 L150.05,198.72 L150.93,198.32 L151.81,197.92 L152.68,197.53 L153.56,197.14 L154.44,196.75 L155.32,196.37 L156.19,195.99 L157.07,195.62 L157.95,195.24 L158.83,194.87 L159.70,194.51 L160.58,194.14 L161.46,193.78 L162.34,193.43 L163.21,193.07 L164.09,192.72 L164.97,192.37 L165.85,192.02 L166.72,191.68 L167.60,191.34 L168.48,191.00 L169.36,190.67 L170.23,190.34 L171.11,190.01 L171.99,189.68 L172.87,189.35 L173.74,189.03 L174.62,188.71 L175.50,188.39 L176.38,188.08 L177.25,187.76 L178.13,187.45 L179.01,187.15 L179.89,186.84 L180.77,186.54 L181.64,186.23 L182.52,185.93 L183.40,185.64 L184.28,185.34 L185.15,185.05 L186.03,184.76 L186.91,184.47 L187.79,184.18 L188.66,183.89 L189.54,183.61 L190.42,183.33 L191.30,183.05 L192.17,182.77 L193.05,182.49 L193.93,182.22 L194.81,181.95 L195.68,181.68 L196.56,181.41 L197.44,181.14 L198.32,180.87 L199.19,180.61 L200.07,180.35 L200.95,180.09 L201.83,179.83 L202.70,179.57 L203.58,179.31 L204.46,179.06 L205.34,178.81 L206.21,178.55 L207.09,178.30 L207.97,178.06 L208.85,177.81 L209.72,177.56 L210.60,177.32 L211.48,177.08 L212.36,176.84 L213.23,176.60 L214.11,176.36 L214.99,176.12 L215.87,175.88 L216.75,175.65 L217.62,175.42 L218.50,175.18 L219.38,174.95 L220.26,174.73 L221.13,174.50 L222.01,174.27 L222.89,174.04 L223.77,173.82 L224.64,173.60 L225.52,173.38 L226.40,173.15 L227.28,172.93 L228.15,172.72 L229.03,172.50 L229.91,172.28 L230.79,172.07 L231.66,171.85 L232.54,171.64 L233.42,171.43 L234.30,171.22 L235.17,171.01 L236.05,170.80 L236.93,170.59 L237.81,170.39 L238.68,170.18 L239.56,169.98 L240.44,169.77 L241.32,169.57 L242.19,169.37 L243.07,169.17 L243.95,168.97 L244.83,168.77 L245.70,168.57 L246.58,168.38 L247.46,168.18 L248.34,167.99 L249.22,167.79 L250.09,167.60 L250.97,167.41 L251.85,167.22 L252.73,167.03 L253.60,166.84 L254.48,166.65 L255.36,166.46 L256.24,166.27 L257.11,166.09 L257.99,165.90 L258.87,165.72 L259.75,165.53 L260.62,165.35 L261.50,165.17 L262.38,164.99 L263.26,164.81 L264.13,164.63 L265.01,164.45 L265.89,164.27 L266.77,164.09 L267.64,163.92 L268.52,163.74 L269.40,163.57 L270.28,163.39 L271.15,163.22 L272.03,163.05 L272.91,162.87 L273.79,162.70 L274.66,162.53 L275.54,162.36 L276.42,162.19 L277.30,162.02 L278.17,161.86 L279.05,161.69 L279.93,161.52 L280.81,161.36 L281.68,161.19 L282.56,161.03 L283.44,160.86 L284.32,160.70 L285.20,160.54 L286.07,160.38 L286.95,160.21 L287.83,160.05 L288.71,159.89 L289.58,159.73 L290.46,159.58 L291.34,159.42 L292.22,159.26 L293.09,159.10 L293.97,158.95 L294.85,158.79 L295.73,158.64 L296.60,158.48 L297.48,158.33 L298.36,158.17 L299.24,158.02 L300.11,157.87 L300.99,157.72 L301.87,157.57 L302.75,157.42 L303.62,157.26 L304.50,157.12 L305.38,156.97 L306.26,156.82 L307.13,156.67 L308.01,156.52 L308.89,156.38 L309.77,156.23 L310.64,156.08 L311.52,155.94 L312.40,155.79 L313.28,155.65 L314.15,155.51 L315.03,155.36 L315.91,155.22 L316.79,155.08 L317.67,154.94 L318.54,154.79 L319.42,154.65 L320.30,154.51 L321.18,154.37 L322.05,154.23 L322.93,154.09 L323.81,153.96 L324.69,153.82 L325.56,153.68 L326.44,153.54 L327.32,153.41 L328.20,153.27 L329.07,153.14 L329.95,153.00 L330.83,152.87 L331.71,152.73 L332.58,152.60 L333.46,152.46 L334.34,152.33 L335.22,152.20 L336.09,152.07 L336.97,151.93 L337.85,151.80 L338.73,151.67 L339.60,151.54 L340.48,151.41" stroke="#ff8000" stroke-width="1.80"/>
<path d="M69.07,252.12 L69.22,252.12 L69.38,252.13 L69.53,252.13 L69.68,252.13 L69.83,252.14 L69.99,252.14 L70.14,252.15 L70.29,252.15 L70.45,252.16 L70.60,252.16 L70.75,252.16 L70.90,252.17 L71.06,252.17 L71.21,252.18 L71.36,252.18 L71.52,252.18 L71.67,252.19 L71.82,252.19 L71.97,252.19 L72.13,252.20 L72.28,252.20 L72.43,252.21 L72.59,252.21 L72.74,252.21 L72.89,252.22 L73.04,252.22 L73.20,252.22 L73.35,252.23 L73.50,252.23 L73.66,252.23 L73.81,252.24 L73.96,252.24 L74.12,252.24 L74.27,252.25 L74.42,252.25 L74.57,252.25 L74.73,252.26 L74.88,252.26 L75.03,252.26 L75.19,252.27 L75.34,252.27 L75.49,252.27 L75.64,252.28 L75.80,252.28 L75.95,252.28 L76.10,252.29 L76.26,252.29 L76.41,252.29 L76.56,252.30 L76.71,252.30 L76.87,252.30 L77.02,252.30 L77.17,252.31 L77.33,252.31 L77.48,252.31 L77.63,252.32 L77.78,252.32 L77.94,252.32 L78.09,252.32 L78.97,252.34 L79.85,252.35 L80.72,252.37 L81.60,252.38 L82.48,252.39 L83.36,252.40 L84.23,252.41 L85.11,252.42 L85.99,252.43 L86.87,252.44 L87.74,252.44 L88.62,252.45 L89.50,252.45 L90.38,252.46 L91.25,252.46 L92.13,252.46 L93.01,252.46 L93.89,252.46 L94.76,252.46 L95.64,252.46 L96.52,252.46 L97.40,252.45 L98.27,252.45 L99.15,252.44 L100.03,252.44 L100.91,252.43 L101.78,252.42 L102.66,252.41 L103.54,252.40 L104.42,252.39 L105.29,252.38 L106.17,252.37 L107.05,252.36 L107.93,252.34 L108.80,252.33 L109.68,252.31 L110.56,252.29 L111.44,252.28 L112.32,252.26 L113.19,252.24 L114.07,252.22 L114.95,252.20 L115.83,252.18 L116.70,252.15 L117.58,252.13 L118.46,252.11 L119.34,252.08 L120.21,252.05 L121.09,252.03 L121.97,252.00 L122.85,251.97 L123.72,251.94 L124.60,251.91 L125.48,251.88 L126.36,251.85 L127.23,251.81 L128.11,251.78 L128.99,251.75 L129.87,251.71 L130.74,251.68 L131.62,251.64 L132.50,251.60 L133.38,251.56 L134.25,251.52 L135.13,251.48 L136.01,251.44 L136.89,251.40 L137.76,251.36 L138.64,251.32 L139.52,251.27 L140.40,251.23 L141.27,251.18 L142.15,251.14 L143.03,251.09 L143.91,251.04 L144.78,251.00 L145.66,250.95 L146.54,250.90 L147.42,250.85 L148.30,250.80 L149.17,250.74 L150.05,250.69 L150.93,250.64 L151.81,250.58 L152.68,250.53 L153.56,250.48 L154.44,250.42 L155.32,250.36 L156.19,250.31 L157.07,250.25 L157.95,250.19 L158.83,250.13 L159.70,250.07 L160.58,250.01 L161.46,249.95 L162.34,249.89 L163.21,249.83 L164.09,249.77 L164.97,249.70 L165.85,249.64 L166.72,249.57 L167.60,249.51 L168.48,249.44 L169.36,249.38 L170.23,249.31 L171.11,249.24 L171.99,249.18 L172.87,249.11 L173.74,249.04 L174.62,248.97 L175.50,248.90 L176.38,248.83 L177.25,248.76 L178.13,248.69 L179.01,248.62 L179.89,248.55 L180.77,248.47 L181.64,248.40 L182.52,248.33 L183.40,248.25 L184.28,248.18 L185.15,248.10 L186.03,248.03 L186.91,247.95 L187.79,247.88 L188.66,247.80 L189.54,247.72 L190.42,247.64 L191.30,247.57 L192.17,247.49 L193.05,247.41 L193.93,247.33 L194.81,247.25 L195.68,247.17 L196.56,247.09 L197.44,247.01 L198.32,246.93 L199.19,246.85 L200.07,246.77 L200.95,246.68 L201.83,246.60 L202.70,246.52 L203.58,246.44 L204.46,246.35 L205.34,246.27 L206.21,246.18 L207.09,246.10 L207.97,246.02 L208.85,245.93 L209.72,245.85 L210.60,245.76 L211.48,245.67 L212.36,245.59 L213.23,245.50 L214.11,245.42 L214.99,245.33 L215.87,245.24 L216.75,245.15 L217.62,245.07 L218.50,244.98 L219.38,244.89 L220.26,244.80 L221.13,244.71 L222.01,244.63 L222.89,244.54 L223.77,244.45 L224.64,244.36 L225.52,244.27 L226.40,244.18 L227.28,244.09 L228.15,244.00 L229.03,243.91 L229.91,243.82 L230.79,243.73 L231.66,243.64 L232.54,243.54 L233.42,243.45 L234.30,243.36 L235.17,243.27 L236.05,243.18 L236.93,243.09 L237.81,243.00 L238.68,242.90 L239.56,242.81 L240.44,242.72 L241.32,242.63 L242.19,242.53 L243.07,242.44 L243.95,242.35 L244.83,242.25 L245.70,242.16 L246.58,242.07 L247.46,241.97 L248.34,241.88 L249.22,241.79 L250.09,241.69 L250.97,241.60 L251.85,241.51 L252.73,241.41 L253.60,241.32 L254.48,241.22 L255.36,241.13 L256.24,241.04 L257.11,240.94 L257.99,240.85 L258.87,240.75 L259.75,240.66 L260.62,240.56 L261.50,240.47 L262.38,240.37 L263.26,240.28 L264.13,240.18 L265.01,240.09 L265.89,239.99 L266.77,239.90 L267.64,239.80 L268.52,239.71 L269.40,239.61 L270.28,239.52 L271.15,239.42 L272.03,239.33 L272.91,239.23 L273.79,239.14 L274.66,239.04 L275.54,238.95 L276.42,238.85 L277.30,238.76 L278.17,238.66 L279.05,238.57 L279.93,238.47 L280.81,238.38 L281.68,238.28 L282.56,238.19 L283.44,238.09 L284.32,238.00 L285.20,237.90 L286.07,237.81 L286.95,237.71 L287.83,237.62 L288.71,237.52 L289.58,237.43 L290.46,237.33 L291.34,237.23 L292.22,237.14 L293.09,237.04 L293.97,236.95 L294.85,236.85 L295.73,236.76 L296.60,236.66 L297.48,236.57 L298.36,236.47 L299.24,236.38 L300.11,236.29 L300.99,236.19 L301.87,236.10 L302.75,236.00 L303.62,235.91 L304.50,235.81 L305.38,235.72 L306.26,235.62 L307.13,235.53 L308.01,235.43 L308.89,235.34 L309.77,235.25 L310.64,235.15 L311.52,235.06 L312.40,234.96 L313.28,234.87 L314.15,234.77 L315.03,234.68 L315.91,234.59 L316.79,234.49 L317.67,234.40 L318.54,234.31 L319.42,234.21 L320.30,234.12 L321.18,234.02 L322.05,233.93 L322.93,233.84 L323.81,233.74 L324.69,233.65 L325.56,233.56 L326.44,233.47 L327.32,233.37 L328.20,233.28 L329.07,233.19 L329.95,233.09 L330.83,233.00 L331.71,232.91 L332.58,232.82 L333.46,232.72 L334.34,232.63 L335.22,232.54 L336.09,232.45 L336.97,232.35 L337.85,232.26 L338.73,232.17 L339.60,232.08 L340.48,231.99" stroke="#800080" stroke-width="1.80"/>
<path d="M68.27,227.2 H340.47" stroke="#000" stroke-width="1.9"/>
<path d="M68.25,250.0 H338" stroke="#000" stroke-width="1.9" stroke-dasharray="2.7 2.134"/>
<path d="M68.25,254.9 H338" stroke="#000" stroke-width="1.9" stroke-dasharray="2.7 2.134"/>
<path d="M68.27,256.4 H340.47" stroke="#000" stroke-width="1.9"/>
</g>
<path d="M69.07,281.30 v-4.00 M69.07,0.50 v4.00 M78.09,281.30 v-2.20 M78.09,0.50 v2.20 M87.11,281.30 v-2.20 M87.11,0.50 v2.20 M96.13,281.30 v-2.20 M96.13,0.50 v2.20 M105.15,281.30 v-4.00 M105.15,0.50 v4.00 M114.17,281.30 v-2.20 M114.17,0.50 v2.20 M123.19,281.30 v-2.20 M123.19,0.50 v2.20 M132.21,281.30 v-2.20 M132.21,0.50 v2.20 M141.23,281.30 v-4.00 M141.23,0.50 v4.00 M150.25,281.30 v-2.20 M150.25,0.50 v2.20 M159.27,281.30 v-2.20 M159.27,0.50 v2.20 M168.29,281.30 v-2.20 M168.29,0.50 v2.20 M177.31,281.30 v-4.00 M177.31,0.50 v4.00 M186.33,281.30 v-2.20 M186.33,0.50 v2.20 M195.35,281.30 v-2.20 M195.35,0.50 v2.20 M204.37,281.30 v-2.20 M204.37,0.50 v2.20 M213.39,281.30 v-4.00 M213.39,0.50 v4.00 M222.41,281.30 v-2.20 M222.41,0.50 v2.20 M231.43,281.30 v-2.20 M231.43,0.50 v2.20 M240.45,281.30 v-2.20 M240.45,0.50 v2.20 M249.47,281.30 v-4.00 M249.47,0.50 v4.00 M258.49,281.30 v-2.20 M258.49,0.50 v2.20 M267.51,281.30 v-2.20 M267.51,0.50 v2.20 M276.53,281.30 v-2.20 M276.53,0.50 v2.20 M285.55,281.30 v-4.00 M285.55,0.50 v4.00 M294.57,281.30 v-2.20 M294.57,0.50 v2.20 M303.59,281.30 v-2.20 M303.59,0.50 v2.20 M312.61,281.30 v-2.20 M312.61,0.50 v2.20 M321.63,281.30 v-4.00 M321.63,0.50 v4.00 M330.65,281.30 v-2.20 M330.65,0.50 v2.20 M339.67,281.30 v-2.20 M339.67,0.50 v2.20" stroke="#000" stroke-width="1.1" fill="none"/>
<path d="M63.50,14.40 h3.20 M345.50,14.40 h-3.20 M63.50,61.22 h3.20 M345.50,61.22 h-3.20 M63.50,47.13 h1.40 M345.50,47.13 h-1.40 M63.50,38.88 h1.40 M345.50,38.88 h-1.40 M63.50,33.03 h1.40 M345.50,33.03 h-1.40 M63.50,28.49 h1.40 M345.50,28.49 h-1.40 M63.50,24.79 h1.40 M345.50,24.79 h-1.40 M63.50,21.65 h1.40 M345.50,21.65 h-1.40 M63.50,18.94 h1.40 M345.50,18.94 h-1.40 M63.50,16.54 h1.40 M345.50,16.54 h-1.40 M63.50,108.04 h3.20 M345.50,108.04 h-3.20 M63.50,93.95 h1.40 M345.50,93.95 h-1.40 M63.50,85.70 h1.40 M345.50,85.70 h-1.40 M63.50,79.85 h1.40 M345.50,79.85 h-1.40 M63.50,75.31 h1.40 M345.50,75.31 h-1.40 M63.50,71.61 h1.40 M345.50,71.61 h-1.40 M63.50,68.47 h1.40 M345.50,68.47 h-1.40 M63.50,65.76 h1.40 M345.50,65.76 h-1.40 M63.50,63.36 h1.40 M345.50,63.36 h-1.40 M63.50,154.86 h3.20 M345.50,154.86 h-3.20 M63.50,140.77 h1.40 M345.50,140.77 h-1.40 M63.50,132.52 h1.40 M345.50,132.52 h-1.40 M63.50,126.67 h1.40 M345.50,126.67 h-1.40 M63.50,122.13 h1.40 M345.50,122.13 h-1.40 M63.50,118.43 h1.40 M345.50,118.43 h-1.40 M63.50,115.29 h1.40 M345.50,115.29 h-1.40 M63.50,112.58 h1.40 M345.50,112.58 h-1.40 M63.50,110.18 h1.40 M345.50,110.18 h-1.40 M63.50,201.68 h3.20 M345.50,201.68 h-3.20 M63.50,187.59 h1.40 M345.50,187.59 h-1.40 M63.50,179.34 h1.40 M345.50,179.34 h-1.40 M63.50,173.49 h1.40 M345.50,173.49 h-1.40 M63.50,168.95 h1.40 M345.50,168.95 h-1.40 M63.50,165.25 h1.40 M345.50,165.25 h-1.40 M63.50,162.11 h1.40 M345.50,162.11 h-1.40 M63.50,159.40 h1.40 M345.50,159.40 h-1.40 M63.50,157.00 h1.40 M345.50,157.00 h-1.40 M63.50,248.50 h3.20 M345.50,248.50 h-3.20 M63.50,234.41 h1.40 M345.50,234.41 h-1.40 M63.50,226.16 h1.40 M345.50,226.16 h-1.40 M63.50,220.31 h1.40 M345.50,220.31 h-1.40 M63.50,215.77 h1.40 M345.50,215.77 h-1.40 M63.50,212.07 h1.40 M345.50,212.07 h-1.40 M63.50,208.93 h1.40 M345.50,208.93 h-1.40 M63.50,206.22 h1.40 M345.50,206.22 h-1.40 M63.50,203.82 h1.40 M345.50,203.82 h-1.40" stroke="#000" stroke-width="0.4" fill="none"/>
<rect x="63.50" y="0.50" width="282.00" height="280.80" fill="none" stroke="#000" stroke-width="1.2"/>
<text x="69.07" y="298.4" font-size="15" text-anchor="middle">0.0</text>
<text x="105.15" y="298.4" font-size="15" text-anchor="middle">0.2</text>
<text x="141.23" y="298.4" font-size="15" text-anchor="middle">0.4</text>
<text x="177.31" y="298.4" font-size="15" text-anchor="middle">0.6</text>
<text x="213.39" y="298.4" font-size="15" text-anchor="middle">0.8</text>
<text x="249.47" y="298.4" font-size="15" text-anchor="middle">1.0</text>
<text x="285.55" y="298.4" font-size="15" text-anchor="middle">1.2</text>
<text x="321.63" y="298.4" font-size="15" text-anchor="middle">1.4</text>
<text x="60.3" y="19.50" font-size="15" text-anchor="end">10<tspan font-size="10.5" dx="0.5" dy="-5.3">−5</tspan></text>
<text x="60.3" y="66.32" font-size="15" text-anchor="end">10<tspan font-size="10.5" dx="0.5" dy="-5.3">−6</tspan></text>
<text x="60.3" y="113.14" font-size="15" text-anchor="end">10<tspan font-size="10.5" dx="0.5" dy="-5.3">−7</tspan></text>
<text x="60.3" y="159.96" font-size="15" text-anchor="end">10<tspan font-size="10.5" dx="0.5" dy="-5.3">−8</tspan></text>
<text x="60.3" y="206.78" font-size="15" text-anchor="end">10<tspan font-size="10.5" dx="0.5" dy="-5.3">−9</tspan></text>
<text x="60.3" y="253.60" font-size="15" text-anchor="end">10<tspan font-size="10.5" dx="0.5" dy="-5.3">−10</tspan></text>
<text x="197.1" y="322.9" font-size="15" font-style="italic">κ<tspan font-size="11" dy="3.2">ε</tspan><tspan font-size="9.5" dx="1.6" dy="-2.7" font-style="normal">′</tspan></text>
<text transform="translate(14.2,191.7) rotate(-90)" font-size="15">Br(<tspan font-style="italic">K</tspan><tspan font-size="9.5" dy="-5.2">+</tspan><tspan dy="5.2" dx="26.3" font-style="italic">π</tspan><tspan font-size="9.5" dy="-5.2" dx="-0.3">+</tspan><tspan dy="5.2" dx="0.3"> νν)</tspan></text>
<path d="M9.95,149.9 V139.3 M6.2,143.5 L9.95,139.2 L13.7,143.5" stroke="#000" stroke-width="1.1" fill="none" stroke-linejoin="miter"/>
<path d="M247,22.45 H266.2" stroke="#0000ff" stroke-width="1.80"/>
<text x="275.2" y="27.70" font-size="15"><tspan font-style="italic">S</tspan><tspan font-size="10.5" dy="2.2">1</tspan></text>
<path d="M247,48.00 H266.2" stroke="#ff0000" stroke-width="1.80"/>
<text x="275.2" y="53.30" font-size="15"><tspan font-style="italic">S</tspan><tspan font-size="10.5" dy="2.2">3</tspan></text>
<path d="M247,80.25 H266.2" stroke="#00ff00" stroke-width="1.80"/>
<text x="275.2" y="85.40" font-size="15"><tspan font-style="italic">R</tspan><tspan font-size="10.5" dy="2.2">2</tspan></text>
<path d="M247,106.45 H266.2" stroke="#996633" stroke-width="1.80"/>
<text x="275.2" y="111.50" font-size="15"><tspan font-style="italic">V</tspan><tspan font-size="10.5" dy="2.2">2,<tspan font-style="italic">L</tspan></tspan></text>
<path d="M247,133.50 H266.2" stroke="#ff8000" stroke-width="1.80"/>
<text x="275.2" y="138.40" font-size="15"><tspan font-style="italic">U</tspan><tspan font-size="10.5" dy="2.2">3</tspan></text>
<path d="M247,159.60 H266.2" stroke="#800080" stroke-width="1.80"/>
<text x="275.2" y="164.30" font-size="15"><tspan font-style="italic">U</tspan><tspan font-size="10.5" dy="2.2">1,<tspan font-style="italic">L</tspan></tspan></text>
<text x="279.8" y="73.5" font-size="11">~</text>
</svg></body></html>
